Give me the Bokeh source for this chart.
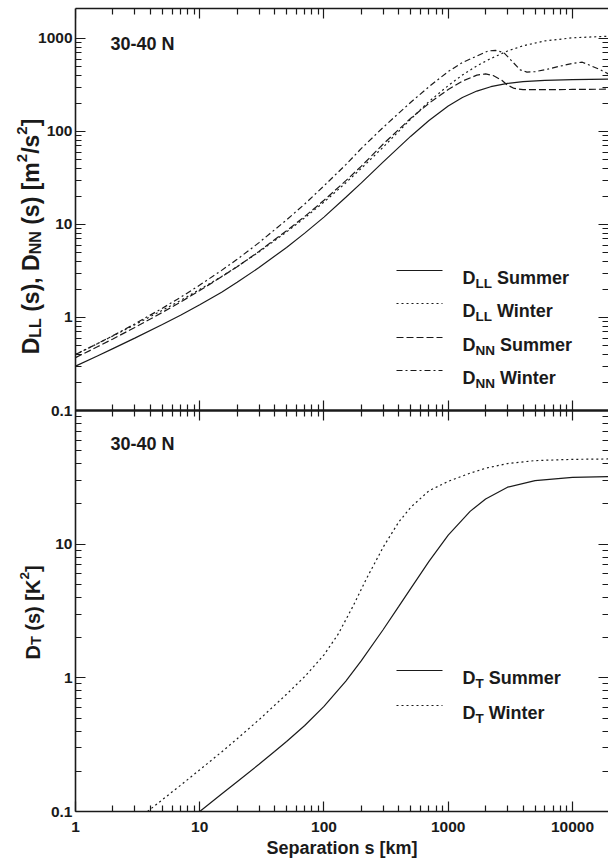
import math
from bokeh.plotting import figure
from bokeh.layouts import row
from bokeh.models import (Range1d, LogAxis, LogScale, FixedTicker, CustomJSTickFormatter,
                          Label, Arrow)
from bokeh.embed import file_html
from bokeh.resources import INLINE

# ---------------- data ----------------
# upper panel: wind structure functions [m^2/s^2] vs separation [km]
dll_summer_x = [1, 1.5, 2, 3, 5, 7, 10, 15, 20, 30, 50, 70, 100, 150, 200, 300, 500, 700, 1000, 1300, 1700, 2200, 3000, 4000, 6000, 10000, 19500]
dll_summer_y = [0.30, 0.386, 0.463, 0.60, 0.84, 1.056, 1.37, 1.87, 2.39, 3.44, 5.67, 8.07, 12.0, 19.6, 28.0, 47.1, 89, 131, 188, 232, 272, 303, 329, 344, 355, 361, 365]

dll_winter_x = [1, 1.5, 2, 3, 5, 7, 10, 15, 20, 30, 50, 70, 100, 150, 200, 300, 500, 700, 1000, 1300, 1700, 2200, 3000, 4000, 6000, 10000, 19500]
dll_winter_y = [0.40, 0.523, 0.634, 0.835, 1.195, 1.52, 2.0, 2.76, 3.52, 5.07, 8.32, 11.8, 17.4, 28.1, 40.2, 68, 136, 210, 311, 404, 508, 608, 733, 834, 941, 1016, 1058]

dnn_summer_x = [1, 1.5, 2, 3, 5, 7, 10, 15, 20, 30, 50, 70, 100, 150, 200, 300, 500, 700, 1000, 1300, 1700, 2000, 2300, 2700, 3000, 3400, 4000, 6000, 10000, 19500]
dnn_summer_y = [0.37, 0.484, 0.588, 0.781, 1.134, 1.464, 1.95, 2.74, 3.52, 5.14, 8.56, 12.2, 18.2, 29.6, 42.4, 73.3, 139, 201, 282, 348, 403, 416, 400, 355, 315, 290, 282, 282, 283, 285]

dnn_winter_x = [1, 1.5, 2, 3, 5, 7, 10, 15, 20, 30, 50, 70, 100, 150, 200, 300, 500, 700, 1000, 1300, 1700, 2100, 2400, 2800, 3300, 3800, 4300, 5000, 6000, 8000, 10000, 12000, 14000, 16500, 19500]
dnn_winter_y = [0.40, 0.523, 0.637, 0.853, 1.258, 1.646, 2.23, 3.21, 4.22, 6.38, 11.2, 16.6, 26.0, 44.0, 65.8, 111, 206, 303, 441, 551, 647, 735, 745, 705, 560, 460, 435, 440, 460, 505, 540, 556, 510, 465, 415]

# lower panel: temperature structure function [K^2]
dt_summer_x = [10, 15, 20, 30, 40, 50, 70, 100, 150, 200, 300, 400, 500, 700, 1000, 1500, 2000, 3000, 5000, 10000, 19500]
dt_summer_y = [0.1, 0.135, 0.167, 0.2255, 0.281, 0.334, 0.44, 0.611, 0.946, 1.344, 2.30, 3.42, 4.67, 7.43, 11.7, 17.6, 21.8, 26.7, 29.9, 31.6, 32.0]

dt_winter_x = [3.8, 5, 7, 10, 15, 20, 30, 50, 70, 100, 130, 170, 220, 300, 400, 500, 700, 1000, 1500, 2000, 3000, 5000, 10000, 19500]
dt_winter_y = [0.1, 0.1225, 0.157, 0.205, 0.279, 0.350, 0.486, 0.754, 1.022, 1.486, 2.12, 3.39, 5.53, 9.52, 14.66, 18.9, 25.1, 29.5, 34.0, 37.0, 40.1, 42.2, 43.1, 43.4]

# tick values / labels
x_major = [1, 10, 100, 1000, 10000]
y_top_major = [0.1, 1, 10, 100, 1000]
y_top_labels = ["0.1", "1", "10", "100", "1000"]
y_bot_major = [0.1, 1, 10]
y_bot_labels = ["0.1", "1", "10"]

# texts
panel_label = "30-40 N"
x_title = "Separation s [km]"
legend_top = [("D", "LL", " Summer"), ("D", "LL", " Winter"), ("D", "NN", " Summer"), ("D", "NN", " Winter")]
legend_bot = [("D", "T", " Summer"), ("D", "T", " Winter")]
ytitle_top = [("D", "main"), ("LL", "sub"), (" (s), ", "main"), ("D", "main"), ("NN", "sub"),
              (" (s) [m", "main"), ("2", "sup"), ("/s", "main"), ("2", "sup"), ("]", "main")]
ytitle_bot = [("D", "main"), ("T", "sub"), (" (s) [K", "main"), ("2", "sup"), ("]", "main")]

# ---------------- layout / style ----------------
W_WIN, H_FIG = 608, 861
STRIP_W = 45                     # strip holding the rotated y titles
MAIN_X0 = 30                     # main figure starts here (overlaps the strip, transparent border)
FRAME_L, FRAME_T, FRAME_B = 75, 8, 811
MID = 410
X_MIN, X_MAX = 1, 19500
TOP_MIN, TOP_MAX = 0.1, 2100
BOT_MIN, BOT_MAX = 0.1, 100
INK = "#1a1a1a"
FONT = "Liberation Sans"
LW = 1.2

ht = MID - FRAME_T
hb = FRAME_B - MID
# both panels share one frame; each log range spans the full frame height
lt1 = math.log10(TOP_MAX)
lt0 = math.log10(TOP_MIN) - (lt1 - math.log10(TOP_MIN)) * hb / ht
lb0 = math.log10(BOT_MIN)
lb1 = math.log10(BOT_MAX) + (math.log10(BOT_MAX) - lb0) * ht / hb
top_start = 10 ** lt0
bot_end = 10 ** lb1


def bot_to_top(v):
    f = (math.log10(v) - lb0) / (lb1 - lb0)
    return 10 ** (lt0 + f * (lt1 - lt0))


def minors(decades):
    return [m * 10.0 ** k for k in decades for m in range(2, 10)]


x_minor = [v for v in minors(range(0, 5)) if v < X_MAX]
y_major_pos = y_top_major + [bot_to_top(v) for v in y_bot_major]
y_major_txt = y_top_labels + y_bot_labels
y_minor_pos = minors(range(-1, 3)) + [bot_to_top(v) for v in minors(range(-1, 2))]

# ---------------- main figure ----------------
p = figure(width=W_WIN - MAIN_X0, height=H_FIG, x_axis_type="log", y_axis_type="log",
           x_range=Range1d(X_MIN, X_MAX), y_range=Range1d(top_start, TOP_MAX),
           output_backend="svg", toolbar_location=None,
           min_border_left=FRAME_L - MAIN_X0, min_border_right=0, min_border_top=FRAME_T,
           min_border_bottom=H_FIG - FRAME_B, margin=(0, 0, 0, MAIN_X0 - STRIP_W))
p.extra_y_ranges = {"bot": Range1d(BOT_MIN, bot_end)}
p.extra_y_scales = {"bot": LogScale()}
p.grid.visible = False
p.outline_line_color = None
p.border_fill_alpha = 0
p.background_fill_color = "white"


def base_axis(ax, line=True, width=1.6):
    ax.axis_line_color = INK if line else None
    ax.axis_line_width = width
    ax.major_tick_line_color = INK
    ax.minor_tick_line_color = INK
    ax.major_tick_line_width = 1.2
    ax.minor_tick_line_width = 1.2
    ax.major_tick_in = 10
    ax.major_tick_out = 0
    ax.minor_tick_in = 6
    ax.minor_tick_out = 0


def label_axis(ax):
    ax.major_label_text_font = FONT
    ax.major_label_text_font_style = "bold"
    ax.major_label_text_font_size = "15.5px"
    ax.major_label_text_color = INK


def tick_only_pair(side, major, minor, fixed, line=True, width=1.6, first_fixed=None):
    """two label-free axes: one for minor-length ticks, one for major-length ticks"""
    a = LogAxis(fixed_location=first_fixed) if first_fixed is not None else LogAxis()
    base_axis(a, line=line, width=width)
    a.ticker = FixedTicker(ticks=[], minor_ticks=minor)
    a.major_label_standoff = 0
    p.add_layout(a, side)
    b = LogAxis(fixed_location=fixed)
    base_axis(b, line=False)
    b.ticker = FixedTicker(ticks=[], minor_ticks=major)
    b.minor_tick_in = 10
    b.major_label_standoff = 0
    p.add_layout(b, side)


# bottom x axis with labels
xb = p.xaxis[0]
base_axis(xb)
label_axis(xb)
xb.ticker = FixedTicker(ticks=x_major, minor_ticks=x_minor)
xb.formatter = CustomJSTickFormatter(code="return String(tick)")
xb.major_label_standoff = 10
xb.axis_label = x_title
xb.axis_label_text_font = FONT
xb.axis_label_text_font_style = "bold"
xb.axis_label_text_font_size = "18px"
xb.axis_label_text_color = INK
xb.axis_label_standoff = 3

# left y axis: labels of both panels
yl = p.yaxis[0]
base_axis(yl)
label_axis(yl)
yl.ticker = FixedTicker(ticks=y_major_pos, minor_ticks=y_minor_pos)
yl.formatter = CustomJSTickFormatter(args=dict(pos=y_major_pos, txt=y_major_txt), code="""
let best = -1, bd = 1e9;
for (let i = 0; i < pos.length; i++) {
  const d = Math.abs(Math.log10(pos[i]) - Math.log10(tick));
  if (d < bd) { bd = d; best = i; }
}
return bd < 1e-6 ? txt[best] : "";
""")
yl.major_label_standoff = 3

# top edge, shared middle line (ticks up and down), right edge
tick_only_pair("above", x_major, x_minor, fixed=TOP_MAX)
tick_only_pair("below", x_major, x_minor, fixed=TOP_MIN, first_fixed=TOP_MIN, width=2.2)
tick_only_pair("above", x_major, x_minor, fixed=TOP_MIN, first_fixed=TOP_MIN, width=2.2)
tick_only_pair("right", y_major_pos, y_minor_pos, fixed=X_MAX, line=False)

# ---------------- curves ----------------
styles = {"solid": None, "dot": "2 3", "dash": "7 3", "dashdot": "6 3 2 3"}


def curve(x, y, style, **kw):
    if styles[style] is None:
        return p.line(x, y, line_color=INK, line_width=LW, **kw)
    return p.line(x, y, line_color=INK, line_width=LW, line_dash=styles[style], **kw)


curve(dll_summer_x, dll_summer_y, "solid")
curve(dll_winter_x, dll_winter_y, "dot")
curve(dnn_summer_x, dnn_summer_y, "dash")
curve(dnn_winter_x, dnn_winter_y, "dashdot")
curve(dt_summer_x, dt_summer_y, "solid", y_range_name="bot")
curve(dt_winter_x, dt_winter_y, "dot", y_range_name="bot")

# ---------------- rich text (sub/superscripts) ----------------
ADV = {" ": 278, "(": 333, ")": 333, ",": 278, "-": 333, "/": 278, "[": 333, "]": 333,
       "0": 556, "1": 556, "2": 556, "3": 556, "4": 556,
       "D": 722, "K": 722, "L": 611, "N": 722, "S": 667, "T": 611, "W": 944,
       "e": 556, "i": 278, "m": 889, "n": 611, "r": 389, "s": 556, "t": 333, "u": 611}


def tw(s, size):
    return sum(ADV.get(c, 556) for c in s) * size / 1000.0


def rich(fig, runs, X, Y, origin, angle=0.0):
    """runs: (text, size, shift); shift > 0 lowers the text. X, Y in window px."""
    ox, oy = origin
    pos = 0.0
    for text, size, shift in runs:
        body = text.strip(" ")
        lead = len(text) - len(text.lstrip(" "))
        pos += tw(" " * lead, size)
        if body:
            if angle == 0:
                sx, sy = X + pos, Y + shift
            else:
                sx, sy = X + shift, Y - pos
            fig.add_layout(Label(x=sx - ox, y=oy - sy, x_units="screen", y_units="screen",
                                 text=body, angle=angle, text_font=FONT, text_font_style="bold",
                                 text_font_size=f"{size}px", text_color=INK,
                                 text_align="left", text_baseline="alphabetic"))
            pos += tw(body, size)
            trail = len(text) - len(text.rstrip(" "))
            pos += tw(" " * trail, size)
    return pos


MAIN = (FRAME_L, FRAME_B)
rich(p, [(panel_label, 18, 0)], 110, 43.5, MAIN)
rich(p, [(panel_label, 18, 0)], 110, 443.5, MAIN)

LEG_X0, LEG_X1, TEXT_X = 396, 442, 462
leg_rows_top = [270, 303, 337, 370]
leg_rows_bot = [670, 705]
leg_styles_top = ["solid", "dot", "dash", "dashdot"]
leg_styles_bot = ["solid", "dot"]


def legend_line(yabs, style):
    kw = dict(end=None, x_start=LEG_X0 - FRAME_L, x_end=LEG_X1 - FRAME_L,
              y_start=FRAME_B - yabs, y_end=FRAME_B - yabs,
              start_units="screen", end_units="screen", line_color=INK, line_width=LW)
    if styles[style] is not None:
        kw["line_dash"] = styles[style]
    p.add_layout(Arrow(**kw))


for (a, sub, rest), yrow, st in zip(legend_top, leg_rows_top, leg_styles_top):
    legend_line(yrow, st)
    rich(p, [(a, 18, 0), (sub, 13.5, 5.5), (rest, 18, 0)], TEXT_X, yrow + 7, MAIN)
for (a, sub, rest), yrow, st in zip(legend_bot, leg_rows_bot, leg_styles_bot):
    legend_line(yrow, st)
    rich(p, [(a, 18, 0), (sub, 13.5, 5.5), (rest, 18, 0)], TEXT_X, yrow + 7, MAIN)

# ---------------- left strip with the rotated y titles ----------------
left = figure(width=STRIP_W, height=H_FIG, x_range=Range1d(0, 1), y_range=Range1d(0, 1),
              x_axis_location=None, y_axis_location=None, output_backend="svg",
              toolbar_location=None, min_border_left=0, min_border_right=0,
              min_border_top=FRAME_T, min_border_bottom=H_FIG - FRAME_B,
              outline_line_color=None)
left.grid.visible = False

ROT = math.pi / 2


def title_runs(spec, main, sub, sup, dsub, dsup):
    size = {"main": main, "sub": sub, "sup": sup}
    shift = {"main": 0, "sub": dsub, "sup": -dsup}
    return [(t, size[k], shift[k]) for t, k in spec]


rt = title_runs(ytitle_top, 23, 16, 15, 4, 9)
Lt = sum(tw(t, s) for t, s, _ in rt)
rich(left, rt, 30.5, 236 + Lt / 2, (0, FRAME_B), angle=ROT)
rb = title_runs(ytitle_bot, 20, 14.5, 13.5, 3.5, 8)
Lb = sum(tw(t, s) for t, s, _ in rb)
rich(left, rb, 32, 612 + Lb / 2, (0, FRAME_B), angle=ROT)

layout = row(left, p)
open("out.html", "w").write(file_html(layout, INLINE))
